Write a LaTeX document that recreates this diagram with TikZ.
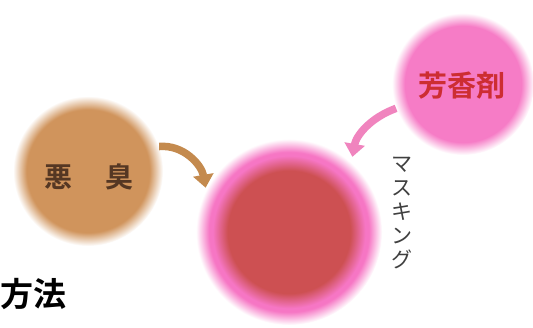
\documentclass[tikz,border=0pt]{standalone}
\usepackage{fontspec}
\newfontfamily\jp{Noto Sans CJK JP}
\newfontfamily\jpb{Noto Sans CJK JP Bold}
\usetikzlibrary{arrows.meta}
\definecolor{cbrown}{RGB}{208,148,92}
\definecolor{cpink}{RGB}{246,124,198}
\definecolor{cmpink}{RGB}{246,118,196}
\definecolor{cred}{RGB}{205,80,82}
\definecolor{cbarrow}{RGB}{196,138,78}
\definecolor{cparrow}{RGB}{240,132,190}
\definecolor{cbtext}{RGB}{85,55,35}
\definecolor{crtext}{RGB}{205,45,50}
\pgfdeclareradialshading{brownball}{\pgfpoint{0bp}{0bp}}{color(0bp)=(cbrown); color(20.5bp)=(cbrown); color(25bp)=(white); color(50bp)=(white)}
\pgfdeclareradialshading{pinkball}{\pgfpoint{0bp}{0bp}}{color(0bp)=(cpink); color(20.5bp)=(cpink); color(25bp)=(white); color(50bp)=(white)}
\pgfdeclareradialshading{mainball}{\pgfpoint{0bp}{0bp}}{color(0bp)=(cred); color(16.5bp)=(cred); color(20.5bp)=(cmpink); color(21.5bp)=(cmpink); color(25bp)=(white); color(50bp)=(white)}
\tikzset{
  ball/.style={circle, draw=none, inner sep=0pt},
  flowarrow/.style={line width=7.5pt, -{Triangle[width=20pt,length=13pt]}},
}
\begin{document}
\begin{tikzpicture}[x=1pt,y=-1pt]
\useasboundingbox[fill=white] (0,0) rectangle (533,328);
\node[ball, minimum size=150pt, shading=brownball] (akushu) at (88,171) {};
\node[ball, minimum size=142pt, shading=pinkball] (kouzai) at (463,84) {};
\node[ball, minimum size=186pt, shading=mainball] (main) at (289,232) {};
\node[font=\jpb\fontsize{28}{28}\selectfont, text=cbtext, inner sep=0pt] (akushutext) at (89,177) {悪\hspace{1.2em}臭};
\node[font=\jpb\fontsize{29}{29}\selectfont, text=crtext, inner sep=0pt] (kouzaitext) at (462,86) {芳香剤};
\node[font=\jp\fontsize{21}{24}\selectfont, text=black!75, align=center, inner sep=0pt] (masking) at (402,213) {マ\\ス\\キ\\ン\\グ};
\node[font=\jpb\fontsize{33}{33}\selectfont, text=black, inner sep=0pt, anchor=west] (houhou) at (0,294) {方法};
\draw[flowarrow, cbarrow, shorten >=2pt] (akushu.19) to[out=5, in=100] (main.153);
\draw[flowarrow, cparrow, shorten >=6pt] (kouzai.200) to[out=200, in=80] (main.48);
\end{tikzpicture}
\end{document}
